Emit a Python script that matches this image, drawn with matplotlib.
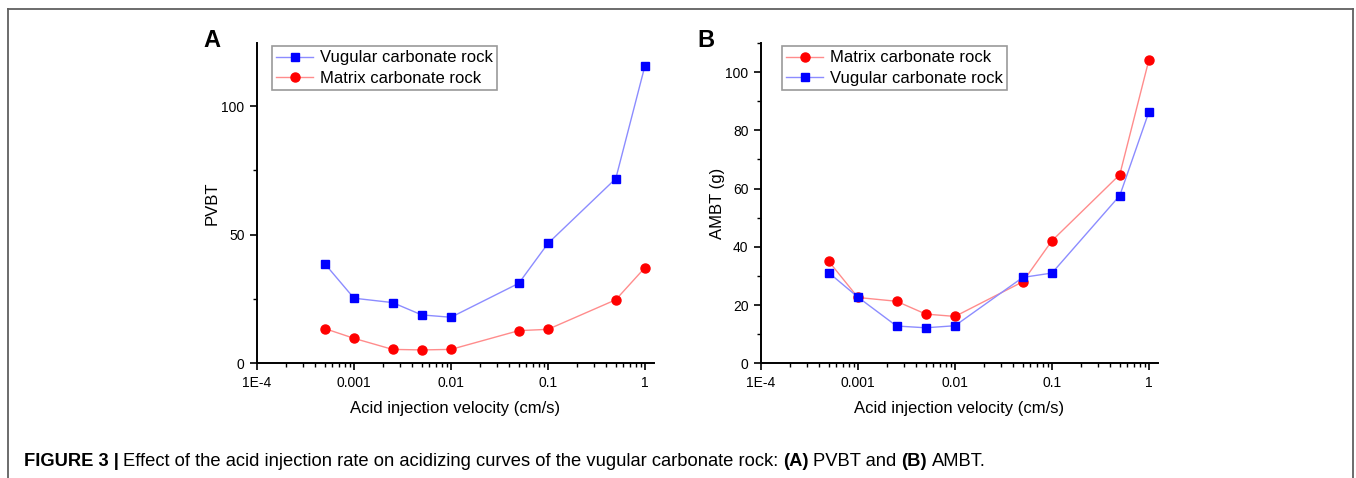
import matplotlib
matplotlib.use("Agg")
import matplotlib.pyplot as plt
from matplotlib.lines import Line2D
from matplotlib.ticker import LogLocator, FixedLocator, NullFormatter

plt.rcParams['font.family'] = ['Liberation Sans', 'DejaVu Sans']

# ---- data ----
velocity = [0.0005, 0.001, 0.0025, 0.005, 0.01, 0.05, 0.1, 0.5, 1.0]
pvbt_vugular = [38.7, 25.3, 23.6, 18.8, 17.9, 31.1, 46.6, 71.8, 115.7]
pvbt_matrix = [13.5, 9.7, 5.4, 5.2, 5.4, 12.7, 13.2, 24.7, 37.2]
ambt_matrix = [35.0, 22.6, 21.3, 16.9, 16.1, 28.0, 42.1, 64.8, 104.3]
ambt_vugular = [31.1, 22.7, 12.8, 12.2, 12.9, 29.5, 31.0, 57.6, 86.4]

x_ticks = [1e-4, 1e-3, 1e-2, 1e-1, 1]
x_ticklabels = ["1E-4", "0.001", "0.01", "0.1", "1"]
a_yticks = [0, 50, 100]
a_yminor = [25, 75, 125]
b_yticks = [0, 20, 40, 60, 80, 100]
b_yminor = [10, 30, 50, 70, 90, 110]

W, H = 1356, 478
fig = plt.figure(figsize=(W / 100, H / 100), dpi=100)

BLUE = '#0000ff'
RED = '#ff0000'
LBLUE = '#8c8cff'
LRED = '#ff8c8c'

def px_axes(l, r, t, b):
    return fig.add_axes([l / W, 1 - b / H, (r - l) / W, (b - t) / H])

axA = px_axes(257, 654, 43, 363.3)
axB = px_axes(761, 1158, 43, 363.3)

def style(ax, ymax, yticks, yminor, ylabel, ylpad):
    ax.set_xscale('log')
    ax.set_xlim(1e-4, 10 ** 0.093)
    ax.set_ylim(0, ymax)
    ax.spines['top'].set_visible(False)
    ax.spines['right'].set_visible(False)
    for s in ['left', 'bottom']:
        ax.spines[s].set_linewidth(1.4)
    ax.xaxis.set_major_locator(FixedLocator(x_ticks))
    ax.set_xticklabels(x_ticklabels)
    ax.xaxis.set_minor_locator(LogLocator(base=10, subs=range(2, 10), numticks=20))
    ax.xaxis.set_minor_formatter(NullFormatter())
    ax.set_yticks(yticks)
    ax.yaxis.set_minor_locator(FixedLocator(yminor))
    ax.tick_params(which='major', direction='out', length=5, width=1.2, labelsize=10, pad=4)
    ax.tick_params(which='minor', direction='out', length=3, width=1.0)
    ax.set_xlabel('Acid injection velocity (cm/s)', fontsize=12, labelpad=8)
    ax.set_ylabel(ylabel, fontsize=12, labelpad=ylpad)

style(axA, 124.5, a_yticks, a_yminor, 'PVBT', 1.5)
style(axB, 110, b_yticks, b_yminor, 'AMBT (g)', 0.5)

ms = 6
# Panel A
axA.plot(velocity, pvbt_vugular, color=LBLUE, lw=1.0, marker='s', ms=ms,
         mfc=BLUE, mec=BLUE, label='Vugular carbonate rock', clip_on=False)
axA.plot(velocity, pvbt_matrix, color=LRED, lw=1.0, marker='o', ms=ms + 0.5,
         mfc=RED, mec=RED, label='Matrix carbonate rock', clip_on=False)
# Panel B
axB.plot(velocity, ambt_matrix, color=LRED, lw=1.0, marker='o', ms=ms + 0.5,
         mfc=RED, mec=RED, label='Matrix carbonate rock', clip_on=False)
axB.plot(velocity, ambt_vugular, color=LBLUE, lw=1.0, marker='s', ms=ms,
         mfc=BLUE, mec=BLUE, label='Vugular carbonate rock', clip_on=False)

for ax, anchor in [(axA, (0.038, 0.99)), (axB, (0.053, 0.99))]:
    leg = ax.legend(loc='upper left', bbox_to_anchor=anchor, borderaxespad=0,
                    fontsize=12, frameon=True, fancybox=False, handlelength=2.2,
                    handletextpad=0.4, labelspacing=0.32, borderpad=0.25,
                    edgecolor='#9a9a9a', framealpha=1)
    leg.get_frame().set_linewidth(1.2)

# panel letters
fig.text(203 / W, 1 - 47 / H, 'A', fontsize=17, fontweight='bold', va='baseline', ha='left')
fig.text(697 / W, 1 - 47 / H, 'B', fontsize=17, fontweight='bold', va='baseline', ha='left')

# frame around figure
frame_c = '#606060'
fig.add_artist(Line2D([8 / W, 8 / W], [0, 1 - 9 / H], color=frame_c, lw=1.3, transform=fig.transFigure))
fig.add_artist(Line2D([8 / W, 1353 / W], [1 - 9 / H, 1 - 9 / H], color=frame_c, lw=1.3, transform=fig.transFigure))
fig.add_artist(Line2D([1353 / W, 1353 / W], [0, 1 - 9 / H], color=frame_c, lw=1.3, transform=fig.transFigure))

# caption
segments = [("FIGURE 3 |", 'bold'),
            ("Effect of the acid injection rate on acidizing curves of the vugular carbonate rock:", 'normal'),
            ("(A)", 'bold'), ("PVBT and", 'normal'), ("(B)", 'bold'), ("AMBT.", 'normal')]
fig.canvas.draw()
renderer = fig.canvas.get_renderer()
x = 24
ybase = 1 - 466 / H
for txt, wt in segments:
    t = fig.text(x / W, ybase, txt, fontsize=13.2, fontweight=wt, va='baseline', ha='left')
    bb = t.get_window_extent(renderer=renderer)
    x = bb.x1 + 4.6

fig.savefig('out.png', dpi=100)
